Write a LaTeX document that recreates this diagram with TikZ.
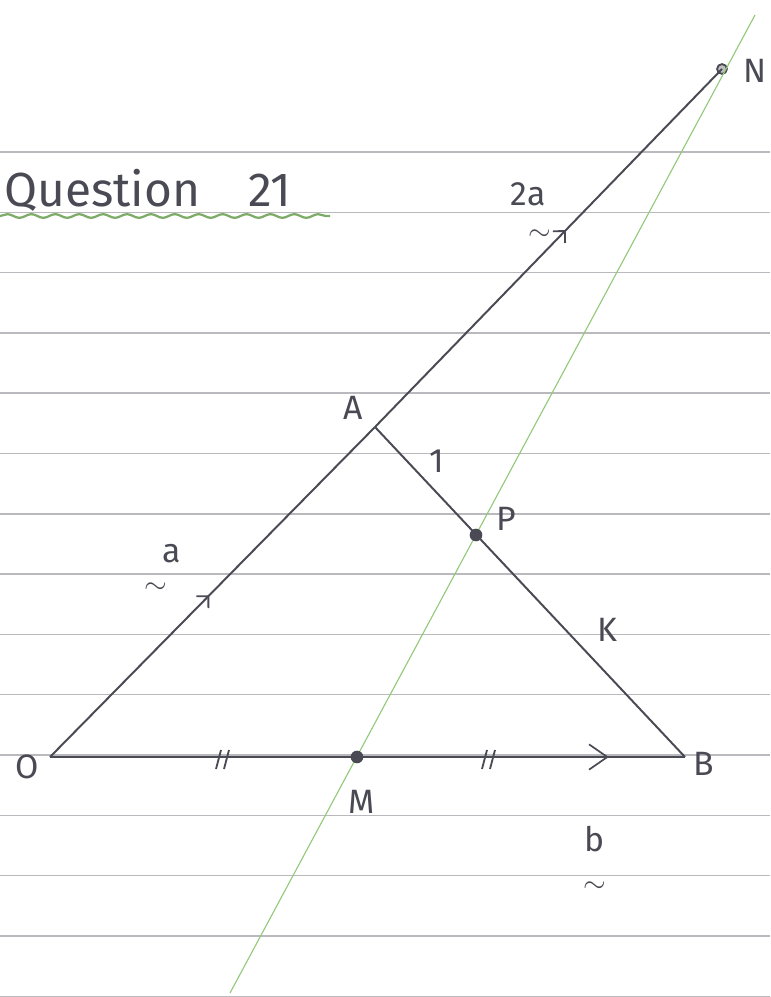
\documentclass[tikz,border=0pt]{standalone}
\usepackage{fontspec}
\setmainfont{Fira Sans}
\usetikzlibrary{arrows.meta,decorations.markings,decorations.pathmorphing}

\definecolor{pencil}{HTML}{4A4A54}
\definecolor{ruled}{HTML}{B9B9BE}
\definecolor{hilite}{HTML}{93C97A}

\tikzset{
  pen/.style={draw=pencil, line width=1.4pt},
  lbl/.style={text=pencil, font=\fontsize{24}{24}\selectfont, inner sep=0pt},
  tld/.style={text=pencil, font=\fontsize{20}{20}\selectfont, inner sep=0pt},
  dot/.style={circle, fill=pencil, inner sep=0pt, minimum size=9pt},
  ndot/.style={circle, draw=pencil, fill=pencil!35, line width=1.3pt, inner sep=0pt, minimum size=7pt},
  midarrow/.style={postaction=decorate, decoration={markings,
    mark=at position #1 with {\arrow[pencil, line width=1.3pt]{Straight Barb[length=6pt,width=12pt]}}}},
}

\begin{document}
\begin{tikzpicture}[x=0.025cm,y=-0.025cm]
	\useasboundingbox (0,0) rectangle (770,997);
	
	% ruled paper
	\foreach \y in {152,212.3,...,997}\draw[ruled,line width=1pt] (0,\y)--(770,\y);
	
	% points
	\coordinate (O) at (50,757);
	\coordinate (A) at (375,427);
	\coordinate (B) at (685,757);
	\coordinate (gtop) at (755,15);
	\coordinate (gbot) at (230,993);
	\node[ndot] (N) at (722,69) {};
	
	% line through M and P
	\draw[hilite,line width=0.8pt] (gbot)--(gtop);
	
	% triangle and extension
	\draw[pen,midarrow=.49] (O)--(A);
	\draw[pen,midarrow=.55] (A)--(N.center);
	\draw[pen] (A)--(B);
	\draw[pen,postaction=decorate,decoration={markings,
		mark=at position .88 with {\arrow[pencil,line width=1.2pt]{Straight Barb[length=13pt,width=18pt]}}}] (O)--(B);
	\node[dot] (P) at (476,535) {};
	\node[dot] (M) at (357,757) {};
	
	% equal parts on OB
	\foreach \x in {219,485}\draw[pencil,line width=1.3pt] (\x-3,769)--(\x+2,750) (\x+5,769)--(\x+10,750);
	
	% labels
	\node[lbl] (labO) at (27,767) {O};
	\node[lbl] (labA) at (353,408) {A};
	\node[lbl] (labB) at (704,764) {B};
	\node[lbl] (labN) at (755,71) {N};
	\node[lbl] (labP) at (506,519) {P};
	\node[lbl] (labM) at (362,802) {M};
	\node[lbl] (labK) at (607,630) {K};
	\node[lbl] (lab1) at (437,461) {1};
	\node[lbl] (veca) at (172,554) {a};
	\node[tld] (tila) at (156,588) {$\sim$};
	\node[lbl] (vec2a) at (528,194) {2a};
	\node[tld] (til2a) at (540,235) {$\sim$};
	\node[lbl] (vecb) at (595,839) {b};
	\node[tld] (tilb) at (595,887) {$\sim$};
	
	% heading
	\node[text=pencil,font=\fontsize{34}{34}\selectfont,anchor=west,inner sep=0pt] (title) at (4,190) {Question\quad 21};
	\draw[hilite!85!black,line width=1.6pt,decorate,decoration={snake,segment length=17pt,amplitude=1.3pt}] (0,216)--(330,216);
	
\end{tikzpicture}
\end{document}
